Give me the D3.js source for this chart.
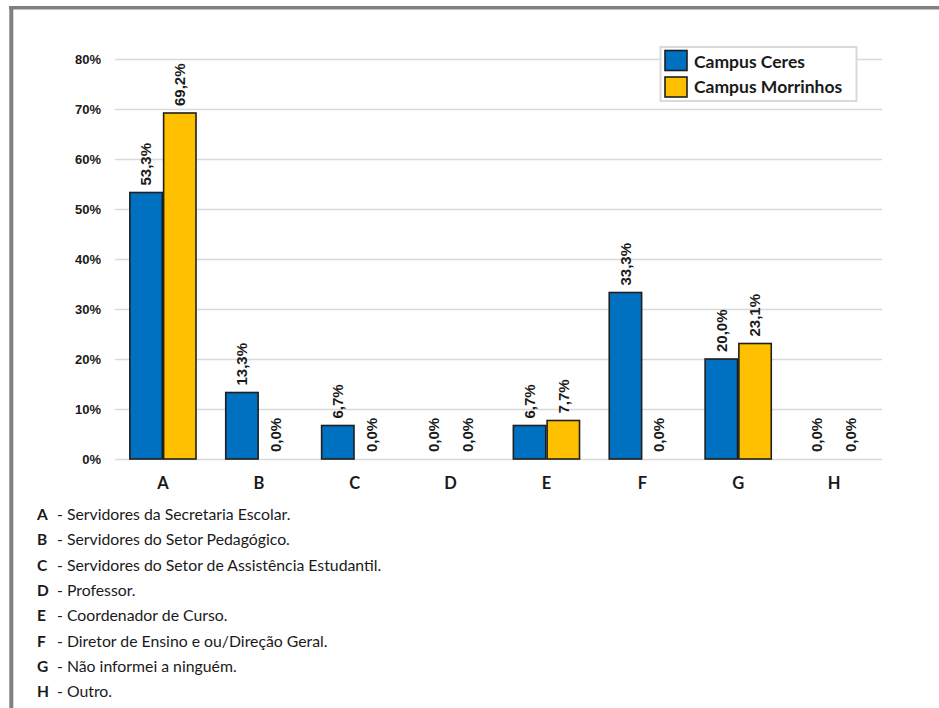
<!DOCTYPE html>
<html>
<head>
<meta charset="utf-8">
<script src="https://cdn.jsdelivr.net/npm/d3@7"></script>
<style>
  html, body { margin: 0; padding: 0; background: #fff; }
  svg { display: block; }
</style>
</head>
<body>
<svg id="chart" width="939" height="708"></svg>
<script>
// Categories, series and tick values
const categories = ["A", "B", "C", "D", "E", "F", "G", "H"];
const seriesNames = ["Campus Ceres", "Campus Morrinhos"];
const ceresValues = [53.3, 13.3, 6.7, 0.0, 6.7, 33.3, 20.0, 0.0];
const morrinhosValues = [69.2, 0.0, 0.0, 0.0, 7.7, 0.0, 23.1, 0.0];
const yTicks = [0, 10, 20, 30, 40, 50, 60, 70, 80];
const descriptions = [
  "Servidores da Secretaria Escolar.",
  "Servidores do Setor Pedagógico.",
  "Servidores do Setor de Assistência Estudantil.",
  "Professor.",
  "Coordenador de Curso.",
  "Diretor de Ensino e ou/Direção Geral.",
  "Não informei a ninguém.",
  "Outro."
];
const seriesColors = ["#0070C0", "#FFC000"];

const svg = d3.select("#chart");

// frame around the figure (top and left edges)
svg.append("line").attr("x1", 9).attr("x2", 939).attr("y1", 7.7).attr("y2", 7.7)
  .attr("stroke", "#808080").attr("stroke-width", 3.5);
svg.append("line").attr("x1", 11.3).attr("x2", 11.3).attr("y1", 6).attr("y2", 708)
  .attr("stroke", "#808080").attr("stroke-width", 4);

const plot = { left: 115, right: 882, top: 59, bottom: 459 };

const x0 = d3.scaleBand().domain(categories)
  .range([plot.left, plot.right]).paddingInner(0.31).paddingOuter(0.155);
const x1 = d3.scaleBand().domain(seriesNames)
  .range([0, x0.bandwidth()]).paddingInner(0.04);
const y = d3.scaleLinear().domain([0, 80]).range([plot.bottom, plot.top]);

// gridlines + y axis labels
const yAxis = d3.axisLeft(y).tickValues(yTicks)
  .tickSize(-(plot.right - plot.left)).tickPadding(14)
  .tickFormat(d => d + "%");
const gy = svg.append("g").attr("transform", `translate(${plot.left},0)`).call(yAxis);
gy.select(".domain").remove();
gy.selectAll(".tick line").attr("stroke", "#d9d9d9").attr("stroke-width", 1.5);
gy.selectAll(".tick text")
  .attr("font-family", "Liberation Sans, Arial, sans-serif")
  .attr("font-weight", "bold").attr("font-size", 13).attr("fill", "#1a1a1a");

// x axis category labels
const xAxis = d3.axisBottom(x0).tickSize(0).tickPadding(18);
const gx = svg.append("g").attr("transform", `translate(0,${plot.bottom})`).call(xAxis);
gx.select(".domain").remove();
gx.selectAll(".tick text")
  .attr("font-family", "Lato, sans-serif")
  .attr("font-weight", "bold").attr("font-size", 16.5).attr("fill", "#1a1a1a");

// bars
const rows = categories.map((c, i) => ({
  cat: c,
  vals: [
    { s: seriesNames[0], v: ceresValues[i], c: seriesColors[0] },
    { s: seriesNames[1], v: morrinhosValues[i], c: seriesColors[1] }
  ]
}));

const groups = svg.append("g").selectAll("g").data(rows).join("g")
  .attr("transform", d => `translate(${x0(d.cat)},0)`);

groups.selectAll("rect").data(d => d.vals.filter(e => e.v > 0)).join("rect")
  .attr("x", d => x1(d.s))
  .attr("width", x1.bandwidth())
  .attr("y", d => y(d.v))
  .attr("height", d => y(0) - y(d.v))
  .attr("fill", d => d.c)
  .attr("stroke", "#1f1f1f").attr("stroke-width", 1.6);

// value labels, rotated
const fmt = v => d3.format(".1f")(v).replace(".", ",") + "%";
groups.selectAll("text.val").data(d => d.vals).join("text")
  .attr("class", "val")
  .attr("transform", d => `translate(${x1(d.s) + x1.bandwidth() / 2},${y(d.v) - 7}) rotate(-90)`)
  .attr("text-anchor", "start")
  .attr("dy", "0.35em")
  .attr("font-family", "Liberation Sans, Arial, sans-serif")
  .attr("font-weight", "bold").attr("font-size", 15).attr("fill", "#1a1a1a")
  .text(d => fmt(d.v));

// legend
const legend = svg.append("g");
legend.append("rect").attr("x", 660.5).attr("y", 47).attr("width", 196).attr("height", 54)
  .attr("fill", "#fff").attr("stroke", "#d9d9d9").attr("stroke-width", 2);
seriesNames.forEach((name, i) => {
  legend.append("rect").attr("x", 665).attr("y", 50.5 + i * 26.5)
    .attr("width", 22).attr("height", 20)
    .attr("fill", seriesColors[i]).attr("stroke", "#1f1f1f").attr("stroke-width", 1.6);
  legend.append("text").attr("x", 694).attr("y", 68 + i * 24.5)
    .attr("font-family", "Lato, sans-serif").attr("font-weight", "bold")
    .attr("font-size", 17.5).attr("fill", "#1a1a1a").text(name);
});

// category descriptions below the chart
const notes = svg.append("g");
descriptions.forEach((txt, i) => {
  const yy = 520 + i * 25.3;
  notes.append("text").attr("x", 37).attr("y", yy)
    .attr("font-family", "Lato, sans-serif").attr("font-weight", "bold")
    .attr("font-size", 15.5).attr("fill", "#1a1a1a").text(categories[i]);
  notes.append("text").attr("x", 57).attr("y", yy)
    .attr("font-family", "Lato, sans-serif")
    .attr("font-size", 15.8).attr("fill", "#1a1a1a").text("- " + txt);
});
</script>
</body>
</html>
